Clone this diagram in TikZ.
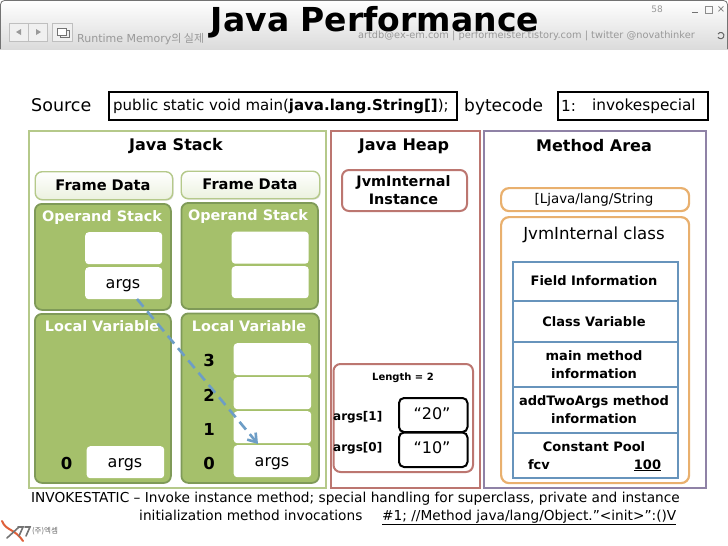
\documentclass[tikz,border=0pt]{standalone}
\usepackage{fontspec}
\setmainfont{DejaVu Sans}
\newfontfamily\cjk{Noto Sans CJK KR}
\usetikzlibrary{arrows.meta,shadows}
\definecolor{stackgreen}{HTML}{A5C06B}
\definecolor{stackedge}{HTML}{7F9A58}
\definecolor{outergreen}{HTML}{B5C98A}
\definecolor{heapred}{HTML}{BC7670}
\definecolor{areapurple}{HTML}{8F82A6}
\definecolor{orangeedge}{HTML}{E9B06E}
\definecolor{blueedge}{HTML}{6794BC}
\definecolor{arrowblue}{HTML}{6D9DC6}
\definecolor{titlegrey}{HTML}{999999}
\definecolor{logored}{HTML}{E0603A}
\tikzset{
  x=1pt,y=-1pt,
  lbl/.style={inner sep=0pt,text=black,align=center},
  panel/.style={draw,line width=2.2pt,fill=white},
  codebox/.style={draw=black,line width=2pt,fill=white,inner sep=0pt},
  framebox/.style={draw=outergreen,line width=1.4pt,rounded corners=7pt,top color=white,bottom color=stackgreen!22,drop shadow={opacity=.25,shadow xshift=1pt,shadow yshift=-1pt},inner sep=0pt},
  greenbox/.style={draw=stackedge,line width=1.8pt,fill=stackgreen,rounded corners=7pt},
  cell/.style={fill=white,rounded corners=3.5pt,inner sep=0pt},
  head/.style={lbl,font=\bfseries\fontsize{16}{18}\selectfont},
  wlabel/.style={lbl,text=white,font=\bfseries\fontsize{14.4}{16}\selectfont},
  idx/.style={lbl,font=\bfseries\fontsize{16.5}{18}\selectfont},
  celltext/.style={lbl,font=\fontsize{16}{18}\selectfont},
  redbox/.style={draw=heapred,line width=2pt,rounded corners=7pt,fill=white},
  orangebox/.style={draw=orangeedge,line width=2.2pt,rounded corners=8pt,fill=white},
  bluerow/.style={draw=blueedge,line width=2pt,fill=white},
  rowtext/.style={lbl,font=\bfseries\fontsize{13}{18}\selectfont},
  strbox/.style={draw=black,line width=2pt,rounded corners=5pt,fill=white,inner sep=0pt},
  notetext/.style={lbl,anchor=base west,font=\fontsize{13.7}{16}\selectfont},
}
\newcommand{\rrect}[7][]{\node[#2,minimum width=#5pt-#3pt,minimum height=#6pt-#4pt,anchor=north west,#1] (#7) at (#3,#4) {};}
\begin{document}
\begin{tikzpicture}
\useasboundingbox (0,0) rectangle (728,546);
\fill[white] (0,0) rectangle (728,546);
% title bar
\shade[top color=white,bottom color=black!14] (0,0) rectangle (728,49);
\draw[black!55,line width=.8pt,rounded corners=4pt] (0.5,49) -- (0.5,0.5) -- (727.5,0.5) -- (727.5,49);
\draw[black!25,fill=black!6] (9,23) rectangle (47,41);
\draw[black!25] (28,23) -- (28,41);
\fill[black!40] (16,32) -- (21,29) -- (21,35) -- cycle;
\fill[black!40] (41,32) -- (36,29) -- (36,35) -- cycle;
\draw[black!25,fill=black!6] (52,23) rectangle (72,41);
\draw[black!55,fill=white] (57,28) rectangle (66,35);
\draw[black!55] (66,30) -- (69,30) -- (69,37) -- (60,37) -- (60,35);
\node[lbl,anchor=west,text=titlegrey,font=\fontsize{11}{13}\selectfont] (subtitle) at (77,39.5) {Runtime Memory{\cjk 의 실제}};
\node[lbl,anchor=base,font=\bfseries\fontsize{33}{38}\selectfont] (title) at (375,31) {Java Performance};
\node[lbl,anchor=east,text=titlegrey,font=\fontsize{9.8}{12}\selectfont] (contact) at (695,35.5) {artdb@ex-em.com | performeister.tistory.com | twitter @novathinker};
\node[lbl,text=titlegrey,font=\fontsize{9}{11}\selectfont] (page) at (657,9) {58};
\fill[black!55] (692,11.5) rectangle (698,13);
\draw[black!45] (705,6) rectangle (712,13);
\node[lbl,text=black!55,font=\fontsize{10}{12}\selectfont] (closex) at (721,9.5) {×};
\draw[black!60,line width=1pt] (718,34) arc (330:30:-3.2 and 3.2);
% source line
\node[lbl,anchor=west,font=\fontsize{17.5}{20}\selectfont] (source) at (31,105) {Source};
\rrect{codebox}{107.5}{90.5}{456}{118.5}{srcbox}
\node[lbl,anchor=west,font=\fontsize{15}{17}\selectfont] (srctext) at (113,106.5) {public static void main({\bfseries java.lang.String[]});};
\node[lbl,anchor=west,font=\fontsize{17}{20}\selectfont] (bytecode) at (464,106.5) {bytecode};
\rrect{codebox}{557}{90.5}{707}{118.5}{bcbox}
\node[lbl,anchor=west,font=\fontsize{15.3}{18}\selectfont] (bctext1) at (561,106) {1:};
\node[lbl,anchor=west,font=\fontsize{15.3}{18}\selectfont] (bctext2) at (592,106) {invokespecial};
% panels
\rrect{panel,draw=outergreen}{27.5}{130}{325}{487}{stack}
\rrect{panel,draw=heapred}{330}{130}{479}{487}{heap}
\rrect{panel,draw=areapurple}{483}{130}{705}{487}{area}
\node[head] (stackhead) at (176,146.5) {Java Stack};
\node[head] (heaphead) at (404,146) {Java Heap};
\node[head] (areahead) at (594,145.5) {Method Area};
% frame data
\rrect{framebox}{34.5}{171}{172}{199}{fd1}
\node[lbl,font=\bfseries\fontsize{14.6}{17}\selectfont] (fd1t) at (103,185) {Frame Data};
\rrect{framebox}{180.5}{170.5}{319}{198}{fd2}
\node[lbl,font=\bfseries\fontsize{14.6}{17}\selectfont] (fd2t) at (250,184) {Frame Data};
% operand stacks
\rrect{greenbox}{34}{203}{170}{309}{os1}
\rrect{greenbox}{180.5}{202}{317}{308}{os2}
\node[wlabel] (os1t) at (102,218) {Operand Stack};
\node[wlabel] (os2t) at (248,217) {Operand Stack};
\rrect{cell}{85}{232}{162}{264}{os1a}
\rrect{cell}{85}{267}{162}{299}{os1b}
\node[celltext] (os1bt) at (123,286) {args};
\rrect{cell}{231.5}{231.5}{308.5}{263.5}{os2a}
\rrect{cell}{231.5}{266}{308.5}{298}{os2b}
% local variables
\rrect{greenbox}{34}{313}{170}{482}{lv1}
\rrect{greenbox}{180.5}{312.5}{318}{482}{lv2}
\node[wlabel] (lv1t) at (102,326.5) {Local Variable};
\node[wlabel] (lv2t) at (249,326.5) {Local Variable};
\rrect{cell}{86.5}{446}{164}{478}{lv1a}
\node[celltext] (lv1at) at (125,465) {args};
\node[idx] (lv1i) at (66.5,463) {0};
\rrect{cell}{233.5}{343}{311}{375}{lv2c3}
\rrect{cell}{233.5}{377}{311}{409}{lv2c2}
\rrect{cell}{233.5}{411}{311}{443}{lv2c1}
\rrect{cell}{233.5}{445}{311}{477}{lv2c0}
\node[celltext] (lv2ct) at (272,464) {args};
\node[idx] (i3) at (209,360) {3};
\node[idx] (i2) at (209,395) {2};
\node[idx] (i1) at (209,429) {1};
\node[idx] (i0) at (209,463) {0};
% dashed connector
\coordinate (argsfrom) at (137,299);
\coordinate (argsto) at (258,444);
\draw[arrowblue,line width=2.6pt,dash pattern=on 10pt off 6pt,-{Straight Barb[length=8pt,width=11pt]}] (argsfrom) -- (argsto);
% heap
\rrect{redbox}{341}{169}{466}{210}{inst}
\node[lbl,font=\bfseries\fontsize{14.4}{18}\selectfont] (instt) at (403.5,190) {JvmInternal\\Instance};
\rrect{redbox}{332.5}{363}{472}{471}{arr}
\node[lbl,font=\bfseries\fontsize{10}{12}\selectfont] (len) at (403,377.5) {Length = 2};
\rrect{strbox}{398}{397}{466.5}{431}{s20}
\rrect{strbox}{398}{431.5}{466.5}{466}{s10}
\node[lbl,font=\fontsize{16}{18}\selectfont] (s20t) at (432,414) {“20”};
\node[lbl,font=\fontsize{16}{18}\selectfont] (s10t) at (432,448) {“10”};
\node[lbl,anchor=west,font=\bfseries\fontsize{12}{14}\selectfont] (a1) at (333,417.5) {args[1]};
\node[lbl,anchor=west,font=\bfseries\fontsize{12}{14}\selectfont] (a0) at (333,448.5) {args[0]};
% method area
\rrect{orangebox}{500}{187}{688}{210}{ljava}
\node[lbl,font=\fontsize{13.4}{16}\selectfont] (ljavat) at (594,199.5) {[Ljava/lang/String};
\rrect{orangebox}{500}{216}{688}{482}{jvmc}
\node[lbl,font=\fontsize{16.6}{19}\selectfont] (jvmct) at (594,235) {JvmInternal class};
\rrect{bluerow}{512}{261}{677}{300}{r1}
\rrect{bluerow}{512}{300}{677}{341}{r2}
\rrect{bluerow}{512}{341}{677}{386}{r3}
\rrect{bluerow}{512}{386}{677}{432}{r4}
\rrect{bluerow}{512}{432}{677}{477}{r5}
\node[rowtext] (r1t) at (594,280.5) {Field Information};
\node[rowtext] (r2t) at (594,321.5) {Class Variable};
\node[rowtext] (r3t) at (594,364.5) {main method\\information};
\node[rowtext] (r4t) at (594,409.5) {addTwoArgs method\\information};
\node[rowtext] (r5t) at (594,447) {Constant Pool};
\node[lbl,anchor=base,font=\bfseries\fontsize{13}{15}\selectfont] (fcv) at (539,469) {fcv};
\node[lbl,anchor=base,font=\bfseries\fontsize{13}{15}\selectfont] (hundred) at (647.5,469) {\underline{100}};
% notes
\node[notetext] (note1) at (31,502) {INVOKESTATIC – Invoke instance method; special handling for superclass, private and instance};
\node[notetext] (note2) at (139,520) {initialization method invocations};
\node[notetext] (note3) at (382,520) {\underline{\#1; //Method java/lang/Object."<init>":()V}};
% logo
\draw[logored,line width=2pt,line cap=round] (2,521) .. controls (6,531) and (14,528) .. (23,541);
\draw[black!55,line width=1.6pt,line cap=round] (7,538) -- (19,527);
\draw[black!55,line width=1.6pt,line cap=round] (18,527) -- (23,527) -- (19,536);
\draw[black!55,line width=1.6pt,line cap=round] (25,527) -- (30,527) -- (26,536);
\node[lbl,anchor=west,text=black!60,font=\cjk\fontsize{7.5}{9}\selectfont] (logok) at (32,531.5) {(주)엑셈};
\end{tikzpicture}
\end{document}
